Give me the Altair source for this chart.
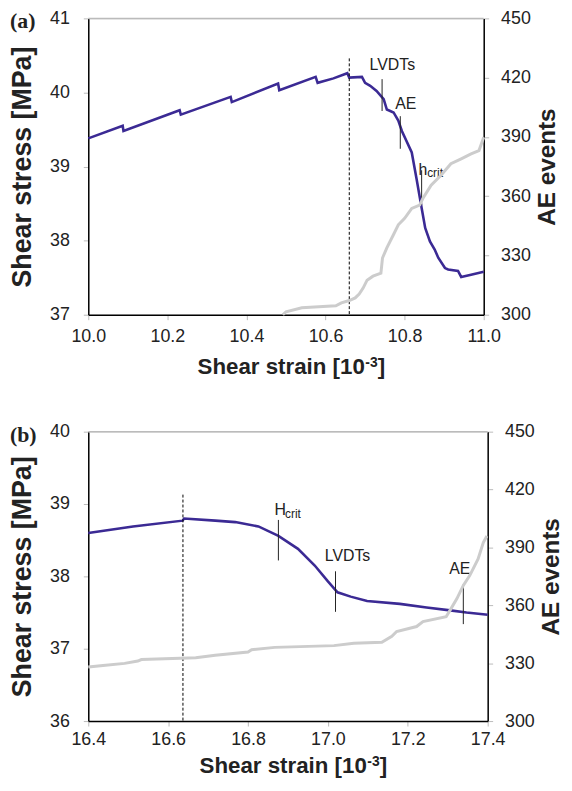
import altair as alt
import pandas as pd

# ---------------- data ----------------
# Panel (a)
a_stress_x = [10.0, 10.087, 10.089, 10.231, 10.234, 10.36, 10.363, 10.48, 10.483,
              10.575, 10.58, 10.62, 10.655, 10.66, 10.692, 10.70, 10.713, 10.729,
              10.747, 10.755, 10.772, 10.784, 10.793, 10.818, 10.83, 10.843, 10.852,
              10.864, 10.876, 10.885, 10.902, 10.91, 10.935, 10.943, 10.968, 11.0]
a_stress_y = [39.38, 39.55, 39.48, 39.76, 39.70, 39.94, 39.87, 40.12, 40.03,
              40.21, 40.13, 40.19, 40.26, 40.20, 40.21, 40.13, 40.09, 40.02,
              39.91, 39.77, 39.73, 39.62, 39.48, 39.19, 38.84, 38.44, 38.17,
              37.99, 37.88, 37.77, 37.63, 37.61, 37.59, 37.51, 37.54, 37.58]
a_ae_x = [10.492, 10.50, 10.54, 10.626, 10.64, 10.66, 10.675, 10.685, 10.695,
          10.705, 10.72, 10.74, 10.744, 10.755, 10.772, 10.784, 10.80, 10.818,
          10.838, 10.846, 10.867, 10.892, 10.917, 10.943, 10.968, 10.988, 11.0]
a_ae_y = [300, 301.5, 303.5, 304.5, 306, 307.2, 308.5, 310.5, 313.5,
          317.5, 319.5, 321, 328.7, 333.8, 340.6, 345.5, 348.8, 353.8,
          355.5, 358.8, 365.6, 370.6, 376.4, 378.9, 381.4, 383.1, 389.8]
a_peak_x = 10.66
a_peak_top = 40.46
a_marks_x = [10.743, 10.789, 10.843]
a_marks_y1 = [40.18, 39.68, 38.95]
a_marks_y2 = [39.75, 39.24, 38.48]
a_labels = ["LVDTs", "AE"]
a_labels_x = [10.769, 10.803]
a_labels_y = [40.37, 39.85]
a_crit_main = ("h", 10.835, 38.89)
a_crit_sub = ("crit", 10.857, 38.86)

# Panel (b)
b_stress_x = [16.4, 16.512, 16.636, 16.64, 16.718, 16.768, 16.826, 16.876, 16.925,
              16.967, 17.0, 17.024, 17.057, 17.098, 17.18, 17.247, 17.306, 17.347, 17.4]
b_stress_y = [38.60, 38.69, 38.77, 38.80, 38.77, 38.75, 38.69, 38.56, 38.38,
              38.15, 37.93, 37.78, 37.72, 37.66, 37.62, 37.57, 37.53, 37.50, 37.47]
b_ae_x = [16.4, 16.437, 16.491, 16.524, 16.533, 16.669, 16.718, 16.8, 16.809,
          16.867, 17.015, 17.065, 17.135, 17.16, 17.172, 17.222, 17.238, 17.296,
          17.306, 17.323, 17.339, 17.355, 17.376, 17.389, 17.398]
b_ae_y = [328, 328.8, 329.9, 331.1, 331.9, 332.8, 334.1, 335.8, 337.0,
          338.2, 339.1, 340.3, 340.8, 343.9, 346.4, 349.0, 351.6, 354.1,
          357.5, 363.5, 370.3, 375.4, 384.0, 392.5, 395.9]
b_peak_x = 16.637
b_peak_top = 39.13
b_marks_x = [16.876, 17.019, 17.339]
b_marks_y1 = [38.78, 38.07, 37.89]
b_marks_y2 = [38.22, 37.51, 37.34]
b_labels = ["LVDTs", "AE"]
b_labels_x = [17.049, 17.33]
b_labels_y = [38.28, 38.10]
b_crit_main = ("H", 16.866, 38.853)
b_crit_sub = ("crit", 16.8926, 38.81)

a_xticks = [10.0, 10.2, 10.4, 10.6, 10.8, 11.0]
a_yticks = [37, 38, 39, 40, 41]
b_xticks = [16.4, 16.6, 16.8, 17.0, 17.2, 17.4]
b_yticks = [36, 37, 38, 39, 40]
ae_ticks = [300, 330, 360, 390, 420, 450]

FONT = "Liberation Sans"
BLUE = "#3b2a94"
GRAY = "#cccccc"


def panel(tag, sx, sy, ax, ay, xdom, ydom, xticks, yticks, peak_x, peak_top,
          mx, my1, my2, labs, lx, ly, crit_main, crit_sub, W, H, title_dx,
          xlab_pad, xtitle_off):
    xs = alt.Scale(domain=xdom, nice=False, zero=False)
    ys = alt.Scale(domain=ydom, nice=False, zero=False)
    aes = alt.Scale(domain=[300, 450], nice=False, zero=False)

    stress_df = pd.DataFrame({"x": sx, "y": sy})
    ae_df = pd.DataFrame({"x": ax, "y": ay})
    marks_df = pd.DataFrame({"x": mx, "y1": my1, "y2": my2})
    labs_df = pd.DataFrame({"t": labs, "x": lx, "y": ly})
    peak_df = pd.DataFrame({"x": [peak_x], "y1": [peak_top], "y2": [ydom[0]]})
    cm_df = pd.DataFrame({"t": [crit_main[0]], "x": [crit_main[1]], "y": [crit_main[2]]})
    cs_df = pd.DataFrame({"t": [crit_sub[0]], "x": [crit_sub[1]], "y": [crit_sub[2]]})

    xaxis = alt.Axis(values=xticks, format=".1f", grid=False, domainColor="black",
                     domainWidth=1.5, tickColor="#bbbbbb", tickSize=5,
                     labelFont=FONT, labelFontSize=18, labelPadding=xlab_pad,
                     labelFlush=False, labelOverlap=False,
                     labelColor="#222222", title=None)
    yaxis = alt.Axis(values=yticks, format="d", grid=False, domainColor="black",
                     domainWidth=1.5, tickColor="#bbbbbb", tickSize=5,
                     labelFont=FONT, labelFontSize=18, labelPadding=14,
                     labelFlush=False, labelOverlap=False,
                     labelColor="#222222", title="Shear stress [MPa]",
                     titleFont=FONT, titleFontSize=27, titleFontWeight="bold",
                     titleColor="#222222", titlePadding=13)
    raxis = alt.Axis(values=ae_ticks, format="d", grid=False, orient="right",
                     domainColor="black", domainWidth=1.5, tickColor="#bbbbbb",
                     tickSize=5, labelFont=FONT, labelFontSize=18, labelPadding=12,
                     labelFlush=False, labelOverlap=False,
                     labelColor="#222222", title="AE events", titleFont=FONT,
                     titleFontSize=24.5, titleFontWeight="bold", titleColor="#222222",
                     titleAngle=270, titlePadding=29)

    stress = alt.Chart(stress_df).mark_line(color=BLUE, strokeWidth=2.6).encode(
        x=alt.X("x:Q", scale=xs, axis=xaxis),
        y=alt.Y("y:Q", scale=ys, axis=yaxis))

    top_line = alt.Chart(pd.DataFrame({"v": [ydom[1]]})).mark_rule(
        color="#bbbbbb", strokeWidth=1.5).encode(
        y=alt.Y("v:Q", scale=ys))

    peak = alt.Chart(peak_df).mark_rule(color="black", strokeWidth=1,
                                        strokeDash=[3, 2]).encode(
        x=alt.X("x:Q", scale=xs), y=alt.Y("y1:Q", scale=ys), y2="y2:Q")

    ticks = alt.Chart(marks_df).mark_rule(color="#222222", strokeWidth=1).encode(
        x=alt.X("x:Q", scale=xs), y=alt.Y("y1:Q", scale=ys), y2="y2:Q")

    labels = alt.Chart(labs_df).mark_text(font=FONT, fontSize=16, color="#222222",
                                          align="center", baseline="middle").encode(
        x=alt.X("x:Q", scale=xs), y=alt.Y("y:Q", scale=ys), text="t:N")

    cmain = alt.Chart(cm_df).mark_text(font=FONT, fontSize=16, color="#222222",
                                       align="left", baseline="alphabetic").encode(
        x=alt.X("x:Q", scale=xs), y=alt.Y("y:Q", scale=ys), text="t:N")
    csub = alt.Chart(cs_df).mark_text(font=FONT, fontSize=12, color="#222222",
                                      align="left", baseline="alphabetic").encode(
        x=alt.X("x:Q", scale=xs), y=alt.Y("y:Q", scale=ys), text="t:N")

    ae = alt.Chart(ae_df).mark_line(color=GRAY, strokeWidth=3).encode(
        x=alt.X("x:Q", scale=xs),
        y=alt.Y("y:Q", scale=aes, axis=raxis))

    # text: panel tag and x-axis title with superscript
    tag_t = alt.Chart(pd.DataFrame({"t": [tag]})).mark_text(
        font="Liberation Serif", fontSize=22, fontWeight="bold", color="#222222",
        align="left", baseline="middle").encode(
        text="t:N", x=alt.value(-79), y=alt.value(3))
    xt_main = alt.Chart(pd.DataFrame({"t": ["Shear strain [10"]})).mark_text(
        font=FONT, fontSize=22.5, fontWeight="bold", color="#222222",
        align="right", baseline="alphabetic").encode(
        text="t:N", x=alt.value(279 + title_dx), y=alt.value(H + xtitle_off))
    xt_sup = alt.Chart(pd.DataFrame({"t": ["-3"]})).mark_text(
        font=FONT, fontSize=14, fontWeight="bold", color="#222222",
        align="left", baseline="alphabetic").encode(
        text="t:N", x=alt.value(279.5 + title_dx), y=alt.value(H + xtitle_off - 7))
    xt_end = alt.Chart(pd.DataFrame({"t": ["]"]})).mark_text(
        font=FONT, fontSize=22.5, fontWeight="bold", color="#222222",
        align="left", baseline="alphabetic").encode(
        text="t:N", x=alt.value(292 + title_dx), y=alt.value(H + xtitle_off))

    left = alt.layer(stress, top_line, peak, ticks, labels, cmain, csub,
                     tag_t, xt_main, xt_sup, xt_end)
    return alt.layer(left, ae).resolve_scale(y="independent").properties(
        width=W, height=H)


pa = panel("(a)", a_stress_x, a_stress_y, a_ae_x, a_ae_y, [10.0, 11.0], [37, 41],
           a_xticks, a_yticks, a_peak_x, a_peak_top, a_marks_x, a_marks_y1,
           a_marks_y2, a_labels, a_labels_x, a_labels_y, a_crit_main, a_crit_sub,
           399, 299, 0, 8, 60)
pb = panel("(b)", b_stress_x, b_stress_y, b_ae_x, b_ae_y, [16.4, 17.4], [36, 40],
           b_xticks, b_yticks, b_peak_x, b_peak_top, b_marks_x, b_marks_y1,
           b_marks_y2, b_labels, b_labels_x, b_labels_y, b_crit_main, b_crit_sub,
           403, 292, 2, 5, 52)

chart = alt.vconcat(pa, pb, spacing=43).properties(
    padding={"left": 0, "top": -3, "right": 0, "bottom": 0}
).configure_view(stroke=None).configure(background="white")

chart.save("out.html", embed_options={"renderer": "svg", "actions": False})
